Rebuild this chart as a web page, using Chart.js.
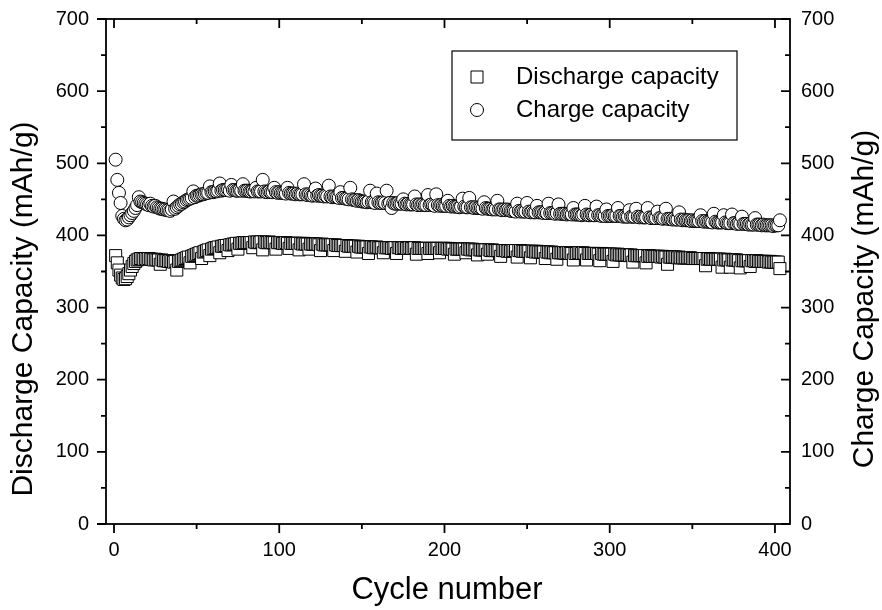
<!DOCTYPE html>
<html>
<head>
<meta charset="utf-8">
<script src="https://cdn.jsdelivr.net/npm/chart.js@4.4.1/dist/chart.umd.min.js"></script>
<style>
  html, body { margin: 0; padding: 0; background: #fff; }
  #wrap { width: 882px; height: 610px; }
</style>
</head>
<body>
<div id="wrap"><canvas id="capChart" width="882" height="610"></canvas></div>
<script>
// --- DATA (mAh/g per cycle) ---
const chargeCapacity = [
  505, 477, 459, 445, 427, 423, 421, 422, 425, 428,
  431, 434, 438, 442, 453, 447, 446, 445, 444, 443,
  442, 444, 441, 440, 441, 439, 438, 437, 437, 436,
  436, 435, 435, 434, 436, 447, 437, 439, 441, 443,
  444, 446, 447, 449, 450, 451, 452, 461, 453, 455,
  455, 456, 457, 457, 458, 459, 459, 468, 460, 460,
  461, 461, 462, 472, 462, 463, 463, 463, 464, 462,
  470, 463, 463, 462, 462, 463, 462, 471, 462, 462,
  462, 461, 461, 462, 461, 466, 461, 461, 461, 477,
  461, 460, 460, 461, 460, 460, 466, 460, 459, 460,
  459, 459, 459, 458, 466, 459, 458, 458, 458, 457,
  458, 457, 457, 457, 471, 457, 456, 457, 456, 455,
  456, 465, 455, 456, 455, 455, 454, 455, 454, 469,
  454, 453, 454, 453, 453, 452, 460, 452, 452, 451,
  451, 450, 466, 450, 449, 449, 448, 449, 448, 447,
  447, 447, 446, 447, 462, 446, 446, 445, 458, 446,
  445, 445, 446, 445, 462, 444, 445, 438, 445, 444,
  444, 445, 444, 444, 450, 444, 443, 444, 443, 443,
  443, 454, 443, 442, 443, 442, 443, 442, 442, 456,
  442, 443, 442, 441, 457, 442, 441, 442, 441, 441,
  441, 448, 441, 440, 441, 440, 440, 440, 439, 440,
  451, 440, 439, 439, 452, 439, 439, 438, 439, 438,
  438, 438, 437, 446, 438, 437, 437, 437, 436, 437,
  436, 448, 436, 436, 435, 436, 435, 436, 435, 434,
  434, 434, 433, 444, 434, 433, 434, 433, 433, 445,
  433, 432, 433, 432, 432, 441, 432, 432, 432, 431,
  432, 431, 444, 431, 431, 431, 430, 431, 443, 430,
  430, 430, 430, 429, 430, 430, 429, 438, 429, 429,
  429, 429, 428, 429, 441, 429, 428, 428, 429, 428,
  428, 440, 428, 428, 427, 428, 427, 436, 427, 427,
  427, 428, 427, 427, 438, 427, 427, 426, 427, 426,
  426, 435, 426, 426, 426, 437, 426, 425, 426, 425,
  425, 425, 438, 425, 424, 425, 424, 424, 433, 424,
  424, 423, 424, 437, 423, 423, 423, 422, 423, 422,
  422, 432, 422, 421, 422, 421, 421, 421, 420, 421,
  420, 420, 420, 420, 428, 420, 419, 420, 419, 419,
  419, 418, 430, 419, 418, 418, 418, 418, 428, 418,
  417, 417, 417, 429, 417, 417, 416, 417, 416, 426,
  416, 416, 416, 415, 416, 415, 415, 424, 415, 415,
  415, 414, 415, 414, 414, 414, 414, 414, 413, 414,
  414, 414, 421
];

const dischargeCapacity = [
  372, 362, 352, 345, 341, 339, 340, 343, 347, 352,
  357, 361, 364, 366, 367, 368, 368, 367, 368, 367,
  368, 367, 367, 366, 367, 366, 366, 360, 366, 365,
  365, 365, 364, 365, 364, 363, 364, 352, 364, 365,
  366, 367, 368, 369, 370, 362, 371, 372, 373, 374,
  375, 376, 368, 377, 378, 379, 380, 372, 381, 382,
  383, 383, 384, 376, 385, 385, 386, 386, 379, 387,
  387, 388, 388, 389, 381, 389, 389, 390, 390, 390,
  390, 390, 390, 383, 391, 390, 391, 390, 391, 380,
  391, 390, 390, 391, 390, 390, 390, 381, 390, 390,
  390, 389, 389, 390, 389, 382, 389, 389, 389, 389,
  389, 380, 389, 388, 389, 388, 388, 381, 388, 388,
  388, 388, 388, 387, 379, 388, 387, 387, 387, 387,
  387, 387, 379, 387, 386, 386, 386, 386, 386, 378,
  386, 385, 385, 385, 385, 385, 377, 385, 384, 384,
  384, 384, 384, 375, 384, 384, 383, 383, 384, 383,
  383, 383, 376, 383, 383, 383, 383, 382, 383, 383,
  375, 383, 383, 382, 383, 383, 382, 382, 383, 382,
  382, 383, 374, 382, 382, 382, 382, 382, 382, 375,
  382, 382, 382, 382, 382, 382, 376, 382, 382, 382,
  382, 381, 382, 381, 381, 374, 381, 381, 381, 381,
  381, 381, 376, 381, 381, 380, 381, 380, 380, 373,
  380, 380, 380, 380, 380, 374, 380, 379, 380, 379,
  379, 379, 379, 371, 379, 379, 379, 378, 379, 378,
  379, 379, 379, 370, 379, 379, 378, 378, 378, 378,
  378, 369, 378, 378, 377, 378, 377, 377, 377, 377,
  368, 377, 377, 376, 377, 376, 376, 367, 376, 376,
  376, 376, 375, 376, 376, 375, 375, 366, 375, 375,
  376, 376, 375, 376, 375, 366, 375, 375, 375, 375,
  375, 375, 374, 365, 375, 374, 374, 374, 374, 374,
  374, 364, 374, 373, 374, 373, 373, 373, 373, 373,
  373, 372, 373, 363, 372, 372, 372, 372, 372, 372,
  372, 362, 371, 372, 371, 371, 371, 371, 371, 371,
  370, 371, 370, 370, 360, 370, 370, 370, 370, 370,
  369, 370, 369, 369, 369, 369, 369, 369, 369, 368,
  368, 368, 368, 368, 368, 368, 368, 358, 367, 368,
  367, 367, 367, 367, 367, 367, 367, 356, 366, 367,
  366, 366, 356, 366, 366, 366, 366, 365, 355, 365,
  365, 365, 365, 365, 357, 365, 365, 364, 365, 364,
  364, 364, 364, 364, 364, 363, 364, 363, 363, 363,
  363, 363, 354
];

// cycle number of each point (1, 2, 3, ...)
const cycles = chargeCapacity.map((_, i) => i + 1);

// --- AXES ---
const xMajorTicks = [0, 100, 200, 300, 400];
const xMinorTicks = [50, 150, 250, 350];
const yMajorTicks = [0, 100, 200, 300, 400, 500, 600, 700];
const yMinorTicks = [50, 150, 250, 350, 450, 550, 650];

const xTitle = 'Cycle number';
const yTitle = 'Discharge Capacity (mAh/g)';
const y2Title = 'Charge Capacity (mAh/g)';
const legendLabels = ['Discharge capacity', 'Charge capacity'];

const FONT = 'Liberation Sans, Arial, Helvetica, sans-serif';

// --- FRAME, TICK MARKS, TITLES, LEGEND ---
const decorations = {
  id: 'decorations',
  afterDatasetsDraw(chart) {
    const { ctx, chartArea: a, scales } = chart;
    const x = scales.x, y = scales.y;
    ctx.save();
    ctx.strokeStyle = '#000';
    ctx.lineWidth = 1.8;
    ctx.strokeRect(a.left, a.top, a.right - a.left, a.bottom - a.top);

    ctx.beginPath();
    const xMark = (v, len) => {
      const px = x.getPixelForValue(v);
      ctx.moveTo(px, a.bottom); ctx.lineTo(px, a.bottom + len);   // bottom, outward
      ctx.moveTo(px, a.top); ctx.lineTo(px, a.top + len);         // top, inward
    };
    const yMark = (v, len) => {
      const py = y.getPixelForValue(v);
      ctx.moveTo(a.left, py); ctx.lineTo(a.left - len, py);       // left, outward
      ctx.moveTo(a.right, py); ctx.lineTo(a.right - len, py);     // right, inward
    };
    xMajorTicks.forEach(v => xMark(v, 9));
    xMinorTicks.forEach(v => xMark(v, 5));
    yMajorTicks.forEach(v => yMark(v, 9));
    yMinorTicks.forEach(v => yMark(v, 5));
    ctx.stroke();
    ctx.restore();
  },
  afterDraw(chart) {
    const { ctx } = chart;
    ctx.save();
    ctx.fillStyle = '#000';
    ctx.textAlign = 'center';
    ctx.textBaseline = 'middle';
    ctx.font = '31px ' + FONT;

    ctx.fillText(xTitle, 447, 590);

    ctx.font = '30px ' + FONT;
    ctx.save();
    ctx.translate(24, 309);
    ctx.rotate(-Math.PI / 2);
    ctx.fillText(yTitle, 0, 0);
    ctx.restore();

    ctx.save();
    ctx.translate(865, 299);
    ctx.rotate(-Math.PI / 2);
    ctx.fillText(y2Title, 0, 0);
    ctx.restore();

    // legend
    ctx.strokeStyle = '#000';
    ctx.lineWidth = 1.2;
    ctx.strokeRect(452, 51, 285, 89);
    ctx.lineWidth = 1;
    ctx.fillStyle = '#fff';
    ctx.beginPath();
    ctx.rect(471, 71, 12, 12);
    ctx.fill(); ctx.stroke();
    ctx.beginPath();
    ctx.arc(477, 110, 6.5, 0, Math.PI * 2);
    ctx.fill(); ctx.stroke();
    ctx.fillStyle = '#000';
    ctx.textAlign = 'left';
    ctx.font = '24px ' + FONT;
    ctx.fillText(legendLabels[0], 516, 77);
    ctx.fillText(legendLabels[1], 516, 110);
    ctx.restore();
  }
};

// --- CHART ---
const tickFont = { family: FONT, size: 20 };
const setTicks = list => scale => { scale.ticks = list.map(v => ({ value: v })); };
// fixed axis sizes so the plot frame sits where the original has it
const fitV = w => s => { s.width = w; s.paddingTop = 0; s.paddingBottom = 0; };
const fitH = h => s => { s.height = h; s.paddingLeft = 0; s.paddingRight = 0; };

new Chart(document.getElementById('capChart'), {
  type: 'scatter',
  data: {
    datasets: [
      {
        label: legendLabels[0],
        data: cycles.map((c, i) => ({ x: c, y: dischargeCapacity[i] })),
        yAxisID: 'y',
        pointStyle: 'rect',
        pointRadius: 8.5,
        borderWidth: 1,
        borderColor: '#000',
        backgroundColor: '#fff'
      },
      {
        label: legendLabels[1],
        data: cycles.map((c, i) => ({ x: c, y: chargeCapacity[i] })),
        yAxisID: 'y2',
        pointStyle: 'circle',
        pointRadius: 6.5,
        borderWidth: 1,
        borderColor: '#000',
        backgroundColor: '#fff'
      }
    ]
  },
  options: {
    responsive: false,
    animation: false,
    events: [],
    layout: { padding: { top: 19, left: 0, right: 0, bottom: 0 } },
    plugins: { legend: { display: false }, tooltip: { enabled: false }, title: { display: false } },
    scales: {
      x: {
        type: 'linear',
        position: 'bottom',
        min: -4.84,
        max: 409.1,
        afterBuildTicks: setTicks(xMajorTicks),
        afterFit: fitH(86),
        grid: { display: false, drawTicks: false },
        border: { display: false },
        ticks: { color: '#000', font: tickFont, padding: 14, maxRotation: 0 }
      },
      y: {
        type: 'linear',
        position: 'left',
        min: 0,
        max: 700,
        afterBuildTicks: setTicks(yMajorTicks),
        afterFit: fitV(106),
        grid: { display: false, drawTicks: false },
        border: { display: false },
        ticks: { color: '#000', font: tickFont, padding: 17 }
      },
      y2: {
        type: 'linear',
        position: 'right',
        min: 0,
        max: 700,
        afterBuildTicks: setTicks(yMajorTicks),
        afterFit: fitV(92),
        grid: { display: false, drawTicks: false },
        border: { display: false },
        ticks: { color: '#000', font: tickFont, padding: 11 }
      }
    }
  },
  plugins: [decorations]
});
</script>
</body>
</html>
